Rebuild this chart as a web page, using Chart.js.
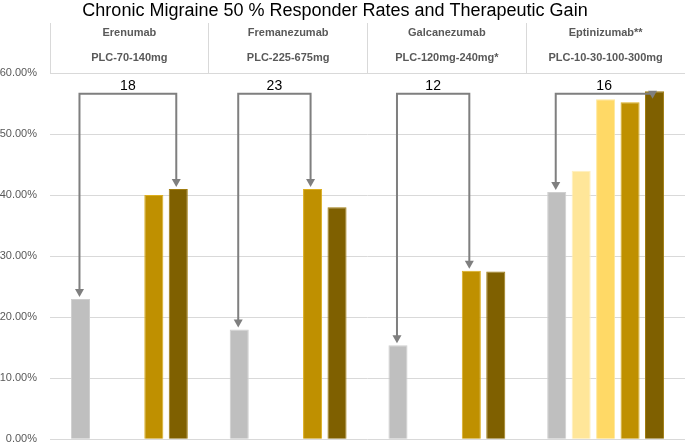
<!DOCTYPE html>
<html>
<head>
<meta charset="utf-8">
<script src="https://cdn.jsdelivr.net/npm/chart.js@4"></script>
<style>
  html, body { margin: 0; padding: 0; background: #fff; }
  #wrap { width: 685px; height: 444px; }
</style>
</head>
<body>
<div id="wrap"><canvas id="chart" width="685" height="444"></canvas></div>
<script>
// ---- DATA ----
const drugs = ['Erenumab', 'Fremanezumab', 'Galcanezumab', 'Eptinizumab**'];
const doses = ['PLC-70-140mg', 'PLC-225-675mg', 'PLC-120mg-240mg*', 'PLC-10-30-100-300mg'];

// 50% responder rates (%), one array per bar slot
const placebo = [23, 18, 15.4, 40.5];
const doseLow = [null, null, null, 44];
const doseMid = [null, null, null, 55.7];
const doseHigh = [40, 41, 27.6, 55.2];
const doseTop = [41, 38, 27.5, 57];

// therapeutic gain brackets
const gainLabels = ['18', '23', '12', '16'];
const gainTarget = [4, 3, 3, 4];   // dataset the right arrow points at
const gainLevel = 56.6;            // % level of the bracket top

const yTicks = [0, 10, 20, 30, 40, 50, 60];

const FONT = "'Liberation Sans', Arial, sans-serif";

function series(label, data, color, edge) {
  return {label, data, backgroundColor: color, borderColor: edge, borderWidth: 1,
          categoryPercentage: 0.77, barPercentage: 0.78};
}

// brackets with arrows, from the placebo bar to the dose bar
const gainBrackets = {
  id: 'gainBrackets',
  afterDatasetsDraw(chart) {
    const ctx = chart.ctx;
    const levelY = chart.scales.y.getPixelForValue(gainLevel);
    const head = (x, tipY) => {
      ctx.beginPath();
      ctx.moveTo(x - 4.5, tipY - 8);
      ctx.lineTo(x + 4.5, tipY - 8);
      ctx.lineTo(x, tipY);
      ctx.closePath();
      ctx.fill();
    };
    ctx.save();
    ctx.strokeStyle = '#7f7f7f';
    ctx.fillStyle = '#7f7f7f';
    ctx.lineWidth = 2;
    gainLabels.forEach((txt, i) => {
      const a = chart.getDatasetMeta(0).data[i];
      const b = chart.getDatasetMeta(gainTarget[i]).data[i];
      const x1 = a.x - 1, x2 = b.x - 2;
      const tip1 = a.y - 2;
      const tip2 = Math.max(b.y - 2, levelY + 5);
      ctx.beginPath();
      ctx.moveTo(x1, tip1 - 7);
      ctx.lineTo(x1, levelY);
      ctx.lineTo(x2, levelY);
      ctx.lineTo(x2, tip2 - 7);
      ctx.stroke();
      head(x1, tip1);
      head(x2, tip2);

      ctx.fillStyle = '#000';
      ctx.font = `14px ${FONT}`;
      ctx.textAlign = 'center';
      ctx.textBaseline = 'middle';
      ctx.fillText(txt, (x1 + x2) / 2, levelY - 8);
      ctx.fillStyle = '#7f7f7f';
    });
    ctx.restore();
  }
};

new Chart(document.getElementById('chart'), {
  type: 'bar',
  data: {
    labels: drugs.map((d, i) => [d, doses[i]]),
    datasets: [
      series('PLC', placebo, '#bfbfbf', '#cfcfcf'),
      series('Dose 1', doseLow, '#ffe699', '#fff0c0'),
      series('Dose 2', doseMid, '#ffd966', '#ffe89a'),
      series('Dose 3', doseHigh, '#bf9000', '#dcae1e'),
      series('Dose 4', doseTop, '#7f6000', '#a07c10'),
    ],
  },
  options: {
    responsive: false,
    animation: false,
    layout: {padding: {left: 0, right: 0, top: 0, bottom: 4.7}},
    plugins: {
      legend: {display: false},
      tooltip: {enabled: false},
      title: {
        display: true,
        // trailing spaces nudge the centred title a little to the left
        text: 'Chronic Migraine 50 % Responder Rates and Therapeutic Gain\u00a0\u00a0\u00a0',
        color: '#000',
        font: {family: FONT, size: 18, weight: 'normal'},
        padding: {top: 0, bottom: 0},
      },
    },
    scales: {
      x: {
        position: 'top',
        offset: true,
        afterFit: s => { s.height = 51.4; },
        grid: {offset: true, drawOnChartArea: false, tickLength: 50, color: '#d9d9d9'},
        border: {color: '#d9d9d9'},
        ticks: {
          autoSkip: false, maxRotation: 0, padding: -48.1,
          color: '#595959',
          font: {family: FONT, size: 11, weight: 'bold', lineHeight: 2.33},
        },
      },
      y: {
        min: 0, max: 60,
        afterFit: s => { s.width = 50; },
        afterBuildTicks: s => { s.ticks = yTicks.map(v => ({value: v})); },
        grid: {color: '#d9d9d9', drawTicks: true, tickLength: 13, tickColor: 'rgba(0,0,0,0)'},
        border: {display: false},
        ticks: {
          padding: 0,
          color: '#595959',
          font: {family: FONT, size: 11, lineHeight: 0.85},
          callback: v => v.toFixed(2) + '%',
        },
      },
    },
  },
  plugins: [gainBrackets],
});
</script>
</body>
</html>
